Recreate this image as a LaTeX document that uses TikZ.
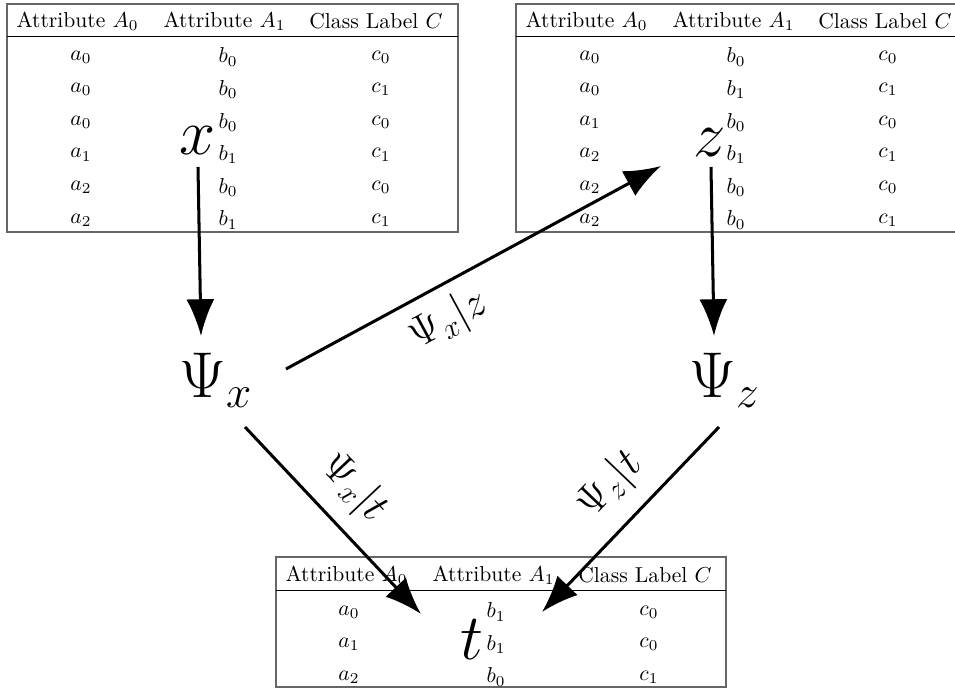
\RequirePackage{fix-cm}
\documentclass[tikz,border=0pt]{standalone}
\usetikzlibrary{arrows.meta}
\begin{document}
\begin{tikzpicture}[x=0.463pt,y=-0.463pt,
  cell/.style={inner sep=0pt, font=\fontsize{10}{12}\selectfont},
  tblframe/.style={draw=black!60, line width=0.7pt},
  tblrule/.style={draw=black, line width=0.45pt},
  bigsym/.style={inner sep=0pt, font=\fontsize{30}{36}\selectfont},
  lbl/.style={inner sep=0pt, font=\fontsize{20}{24}\selectfont},
  arr/.style={line width=1.4pt, -{Latex[length=17pt,width=13pt]}}]
\useasboundingbox (0,0) rectangle (955,689);
\clip (0,0) rectangle (955,689);

% ---- table of x (top left)
\draw[tblframe] (7,4) rectangle (458,232);
\draw[tblrule] (7,36.5) -- (458,36.5);
\node[cell] (xh0) at (77.5,21) {Attribute $A_0$};
\node[cell] (xh1) at (224.5,21) {Attribute $A_1$};
\node[cell] (xh2) at (376,21) {Class Label $C$};
\foreach \a/\b/\c [count=\i] in {0/0/0,0/0/1,0/0/0,1/1/1,2/0/0,2/1/1} {
  \node[cell] (xa\i) at (81,{57+32.6*(\i-1)}) {$a_{\a}$};
  \node[cell] (xb\i) at (228,{57+32.6*(\i-1)}) {$b_{\b}$};
  \node[cell] (xc\i) at (381,{57+32.6*(\i-1)}) {$c_{\c}$};
}

% ---- table of z (top right)
\draw[tblframe] (516,4) rectangle (967,232);
\draw[tblrule] (516,36.5) -- (967,36.5);
\node[cell] (zh0) at (586.5,21) {Attribute $A_0$};
\node[cell] (zh1) at (733.5,21) {Attribute $A_1$};
\node[cell] (zh2) at (885,21) {Class Label $C$};
\foreach \a/\b/\c [count=\i] in {0/0/0,0/1/1,1/0/0,2/1/1,2/0/0,2/0/1} {
  \node[cell] (za\i) at (590,{57+32.6*(\i-1)}) {$a_{\a}$};
  \node[cell] (zb\i) at (736,{57+32.6*(\i-1)}) {$b_{\b}$};
  \node[cell] (zc\i) at (888,{57+32.6*(\i-1)}) {$c_{\c}$};
}

% ---- table of t (bottom)
\draw[tblframe] (276,557) rectangle (726,687);
\draw[tblrule] (276,590) -- (726,590);
\node[cell] (th0) at (346.5,575) {Attribute $A_0$};
\node[cell] (th1) at (493.5,575) {Attribute $A_1$};
\node[cell] (th2) at (645,575) {Class Label $C$};
\foreach \a/\b/\c [count=\i] in {0/1/0,1/1/0,2/0/1} {
  \node[cell] (ta\i) at (349,{612+32.5*(\i-1)}) {$a_{\a}$};
  \node[cell] (tb\i) at (496,{612+32.5*(\i-1)}) {$b_{\b}$};
  \node[cell] (tc\i) at (649,{612+32.5*(\i-1)}) {$c_{\c}$};
}

% ---- data sets and their models
\node[bigsym, anchor=base] (x) at (198,155) {$x$};
\node[bigsym, anchor=base] (z) at (710,157) {$z$};
\node[bigsym, anchor=base] (t) at (472,659) {$t$};
\node[bigsym, anchor=base west] (Psix) at (179,398) {$\Psi_x$};
\node[bigsym, anchor=base west] (Psiz) at (689,398) {$\Psi_z$};

% ---- connectors
\draw[arr] ([shift={(0,12)}]x.base) -- ([shift={(22,-62)}]Psix.base west);
\draw[arr] ([shift={(1,10)}]z.base) -- ([shift={(25,-62)}]Psiz.base west);
\draw[arr] ([shift={(107,-29)}]Psix.base west) -- ([shift={(-49,9)}]z.base);
\draw[arr] ([shift={(66,29)}]Psix.base west) -- ([shift={(-51,-45)}]t.base);
\draw[arr] ([shift={(30,29)}]Psiz.base west) -- ([shift={(70,-47)}]t.base);

% ---- transfer labels
\node[lbl, rotate=28.4] (Lxz) at (449,320) {$\Psi_x|z$};
\node[lbl, rotate=-46.7] (Lxt) at (354,488) {$\Psi_x|t$};
\node[lbl, rotate=46.3] (Lzt) at (610,485) {$\Psi_z|t$};
\end{tikzpicture}
\end{document}
